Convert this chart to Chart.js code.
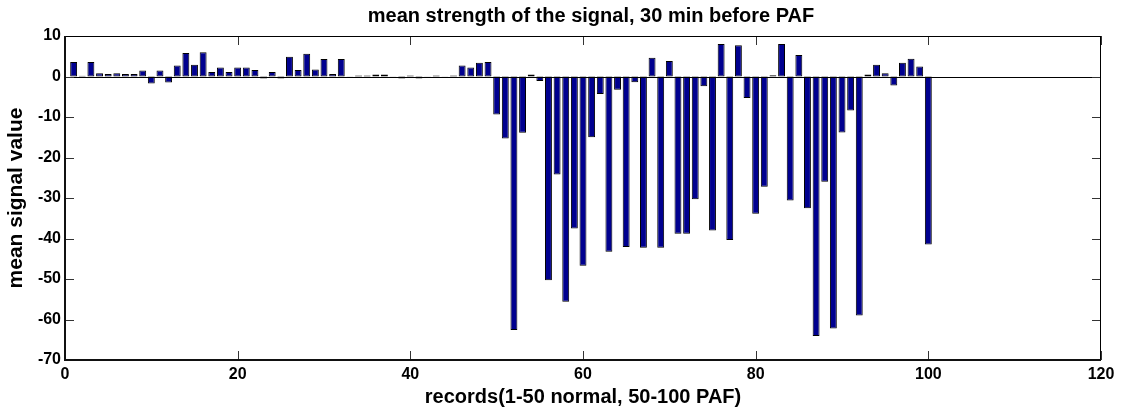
<!DOCTYPE html>
<html>
<head>
<meta charset="utf-8">
<script src="https://cdn.jsdelivr.net/npm/chart.js@4.4.1/dist/chart.umd.min.js"></script>
<style>
  html, body { margin: 0; padding: 0; background: #ffffff; }
  #wrap { width: 1121px; height: 411px; position: relative; }
</style>
</head>
<body>
<div id="wrap"><canvas id="c" width="1121" height="411"></canvas></div>
<script>
const chartTitle = 'mean strength of the signal, 30 min before PAF';
const xTitle = 'records(1-50 normal, 50-100 PAF)';
const yTitle = 'mean signal value';

const records = [
  1, 2, 3, 4, 5, 6, 7, 8, 9, 10,
  11, 12, 13, 14, 15, 16, 17, 18, 19, 20,
  21, 22, 23, 24, 25, 26, 27, 28, 29, 30,
  31, 32, 33, 34, 35, 36, 37, 38, 39, 40,
  41, 42, 43, 44, 45, 46, 47, 48, 49, 50,
  51, 52, 53, 54, 55, 56, 57, 58, 59, 60,
  61, 62, 63, 64, 65, 66, 67, 68, 69, 70,
  71, 72, 73, 74, 75, 76, 77, 78, 79, 80,
  81, 82, 83, 84, 85, 86, 87, 88, 89, 90,
  91, 92, 93, 94, 95, 96, 97, 98, 99, 100
];

// records 1-50: normal
const normalValues = [
  3.6, 0.2, 3.6, 0.8, 0.6, 0.8, 0.6, 0.6, 1.5, -1.7,
  1.5, -1.5, 2.7, 5.8, 2.9, 6.0, 1.1, 2.2, 1.1, 2.2,
  2.2, 1.6, -0.5, 1.1, -0.5, 4.9, 1.6, 5.6, 1.7, 4.3,
  0.6, 4.3, 0.05, 0.25, 0.25, 0.5, 0.5, 0.05, -0.5, 0.25,
  -0.5, 0.05, 0.25, 0.05, 0.25, 2.7, 2.2, 3.4, 3.6, -9.4
];

// records 51-100: PAF
const pafValues = [
  -15.3, -62.6, -13.9, 0.5, -1.1, -50.3, -24.2, -55.6, -37.5, -46.7,
  -15.0, -4.3, -43.3, -3.3, -42.1, -1.4, -42.3, 4.6, -42.3, 3.8,
  -38.8, -38.8, -30.3, -2.4, -38.0, 8.0, -40.4, 7.7, -5.3, -33.9,
  -27.2, 0.3, 8.0, -30.6, 5.3, -32.5, -64.1, -26.0, -62.2, -13.8,
  -8.4, -59.0, 0.5, 2.9, 0.8, -2.2, 3.4, 4.4, 2.5, -41.5
];

const values = normalValues.concat(pafValues);

const xTicks = [0, 20, 40, 60, 80, 100, 120];
const yTicks = [-70, -60, -50, -40, -30, -20, -10, 0, 10];

const points = records.map((r, i) => ({ x: r, y: values[i] }));

const BOLD = 'bold';
const FAMILY = '"Liberation Sans", Arial, Helvetica, sans-serif';

// Title centred over the plot box (as MATLAB does)
const titlePlugin = {
  id: 'plotTitle',
  afterDraw(chart) {
    const { ctx, chartArea: a } = chart;
    ctx.save();
    ctx.fillStyle = '#000';
    ctx.font = 'bold 20px ' + FAMILY;
    ctx.textAlign = 'center';
    ctx.textBaseline = 'alphabetic';
    ctx.fillText(chartTitle, (a.left + a.right) / 2 + 8, 22);
    ctx.restore();
  }
};

// MATLAB-style frame: box, inward ticks on all four sides, zero baseline
const framePlugin = {
  id: 'frame',
  afterDatasetsDraw(chart) {
    const { ctx, chartArea: a, scales } = chart;
    const xs = scales.x, ys = scales.y;
    ctx.save();
    const y0 = Math.round(ys.getPixelForValue(0)) + 0.5;
    ctx.strokeStyle = '#000';
    ctx.lineWidth = 1;
    ctx.beginPath();
    ctx.moveTo(a.left, y0);
    ctx.lineTo(a.right, y0);
    ctx.stroke();
    const tl = 9;
    ctx.strokeStyle = '#333';
    ctx.lineWidth = 1;
    ctx.beginPath();
    xTicks.forEach(v => {
      const px = Math.round(xs.getPixelForValue(v)) + 0.5;
      ctx.moveTo(px, a.bottom); ctx.lineTo(px, a.bottom - tl);
      ctx.moveTo(px, a.top); ctx.lineTo(px, a.top + tl);
    });
    yTicks.forEach(v => {
      const py = Math.round(ys.getPixelForValue(v)) + 0.5;
      ctx.moveTo(a.left, py); ctx.lineTo(a.left + tl, py);
      ctx.moveTo(a.right, py); ctx.lineTo(a.right - tl, py);
    });
    ctx.stroke();
    ctx.strokeStyle = '#000';
    ctx.lineWidth = 1;
    ctx.beginPath();
    ctx.moveTo(a.left, a.top + 0.5); ctx.lineTo(a.right, a.top + 0.5);
    ctx.moveTo(a.right - 0.5, a.top); ctx.lineTo(a.right - 0.5, a.bottom);
    ctx.stroke();
    ctx.lineWidth = 2;
    ctx.strokeStyle = '#111';
    ctx.beginPath();
    ctx.moveTo(a.left, a.bottom); ctx.lineTo(a.right, a.bottom);
    ctx.moveTo(a.left, a.top); ctx.lineTo(a.left, a.bottom + 1);
    ctx.stroke();
    ctx.restore();
  }
};

new Chart(document.getElementById('c'), {
  type: 'bar',
  data: {
    datasets: [{
      data: points,
      backgroundColor: '#00008F',
      borderColor: '#000000',
      borderWidth: 1,
      borderSkipped: false,
      inflateAmount: 0,
      categoryPercentage: 1.0,
      barPercentage: 0.8
    }]
  },
  options: {
    responsive: false,
    animation: false,
    devicePixelRatio: 1,
    layout: { padding: { left: 0, right: 20, top: 36, bottom: 0 } },
    plugins: {
      legend: { display: false },
      tooltip: { enabled: false },
      title: { display: false }
    },
    scales: {
      x: {
        type: 'linear',
        offset: false,
        min: 0, max: 120,
        afterBuildTicks(scale) { scale.ticks = xTicks.map(v => ({ value: v })); },
        afterFit(scale) { scale.height = 51; },
        grid: { display: false, drawTicks: false, offset: false },
        border: { display: false },
        ticks: {
          color: '#000',
          font: { family: FAMILY, size: 16, weight: BOLD },
          padding: 5,
          maxRotation: 0,
          autoSkip: false
        },
        title: {
          display: true,
          text: xTitle,
          color: '#000',
          font: { family: FAMILY, size: 20, weight: BOLD },
          padding: { top: 0, bottom: 2 }
        }
      },
      y: {
        type: 'linear',
        min: -70, max: 10,
        afterBuildTicks(scale) { scale.ticks = yTicks.map(v => ({ value: v })); },
        afterFit(scale) { scale.width = 65; },
        grid: { display: false, drawTicks: false },
        border: { display: false },
        ticks: {
          color: '#000',
          font: { family: FAMILY, size: 16, weight: BOLD },
          padding: 4,
          autoSkip: false
        },
        title: {
          display: true,
          text: yTitle,
          color: '#000',
          font: { family: FAMILY, size: 21, weight: BOLD },
          padding: { top: 4, bottom: 0 }
        }
      }
    }
  },
  plugins: [framePlugin, titlePlugin]
});
</script>
</body>
</html>
